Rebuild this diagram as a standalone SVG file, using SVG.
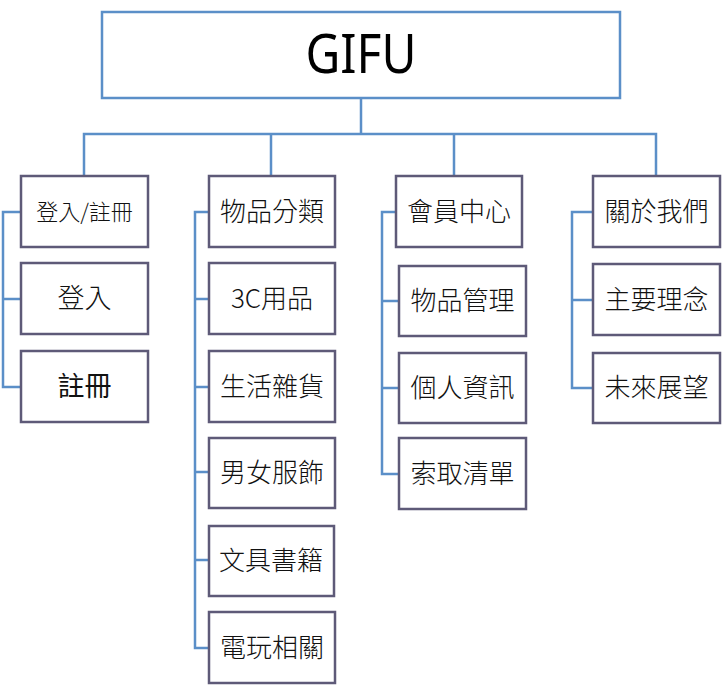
<svg xmlns="http://www.w3.org/2000/svg" width="724" height="685" viewBox="0 0 724 685">
<style>
.box{fill:#fff;stroke:#5e5a78;stroke-width:2.5}
.root{fill:#fff;stroke:#5b8fc8;stroke-width:2.5}
.con{fill:none;stroke:#5b8fc8;stroke-width:2.5}
.t{font-family:"Noto Sans CJK TC","Noto Sans CJK SC",sans-serif;font-size:26px;font-weight:300;fill:#111;text-anchor:middle}
.g{font-family:"Noto Sans","Open Sans",sans-serif;font-size:54px;fill:#000;text-anchor:middle}
</style>
<rect width="724" height="685" fill="#fff"/>
<g id="connectors">
<path class="con" d="M361,98V134M84,176V134H656V176M271,134V176M454,134V176"/>
<path class="con" d="M21,212H3V387H21M3,299H21"/>
<path class="con" d="M209,212H195V648H209M195,299H209M195,387H209M195,472H209M195,560H209"/>
<path class="con" d="M396,212H382V474H399M382,301H399M382,388H399"/>
<path class="con" d="M593,212H572V388H593M572,300H593"/>
</g>
<g id="root"><rect class="root" x="102" y="12" width="518" height="86"/><text class="g" x="361" y="73" textLength="111" lengthAdjust="spacingAndGlyphs">GIFU</text></g>
<g id="n-login-register"><rect class="box" x="21" y="176" width="127" height="71"/><text class="t" x="84.5" y="220" style="font-size:22px">登入/註冊</text></g>
<g id="n-login"><rect class="box" x="21" y="263" width="127" height="71"/><text class="t" x="84.5" y="308" style="font-size:27px">登入</text></g>
<g id="n-register"><rect class="box" x="21" y="351" width="127" height="71"/><text class="t" x="84.5" y="396" style="font-size:27px;font-weight:400">註冊</text></g>
<g id="n-category"><rect class="box" x="209" y="176" width="126" height="71"/><text class="t" x="272" y="221">物品分類</text></g>
<g id="n-3c"><rect class="box" x="209" y="263" width="126" height="71"/><text class="t" x="272" y="308">3C用品</text></g>
<g id="n-life"><rect class="box" x="209" y="351" width="126" height="71"/><text class="t" x="272" y="396">生活雜貨</text></g>
<g id="n-fashion"><rect class="box" x="209" y="438" width="126" height="70"/><text class="t" x="272" y="482">男女服飾</text></g>
<g id="n-books"><rect class="box" x="209" y="526" width="125" height="70"/><text class="t" x="271" y="570">文具書籍</text></g>
<g id="n-games"><rect class="box" x="209" y="612" width="126" height="71"/><text class="t" x="272" y="657">電玩相關</text></g>
<g id="n-member"><rect class="box" x="396" y="176" width="126" height="71"/><text class="t" x="459" y="221">會員中心</text></g>
<g id="n-items"><rect class="box" x="399" y="266" width="127" height="70"/><text class="t" x="462.5" y="310">物品管理</text></g>
<g id="n-profile"><rect class="box" x="399" y="353" width="127" height="70"/><text class="t" x="462.5" y="397">個人資訊</text></g>
<g id="n-requests"><rect class="box" x="399" y="438" width="127" height="71"/><text class="t" x="462.5" y="483">索取清單</text></g>
<g id="n-about"><rect class="box" x="593" y="176" width="127" height="71"/><text class="t" x="656.5" y="221">關於我們</text></g>
<g id="n-concept"><rect class="box" x="593" y="264" width="127" height="71"/><text class="t" x="656.5" y="309">主要理念</text></g>
<g id="n-future"><rect class="box" x="593" y="353" width="127" height="70"/><text class="t" x="656.5" y="397">未來展望</text></g>
</svg>
